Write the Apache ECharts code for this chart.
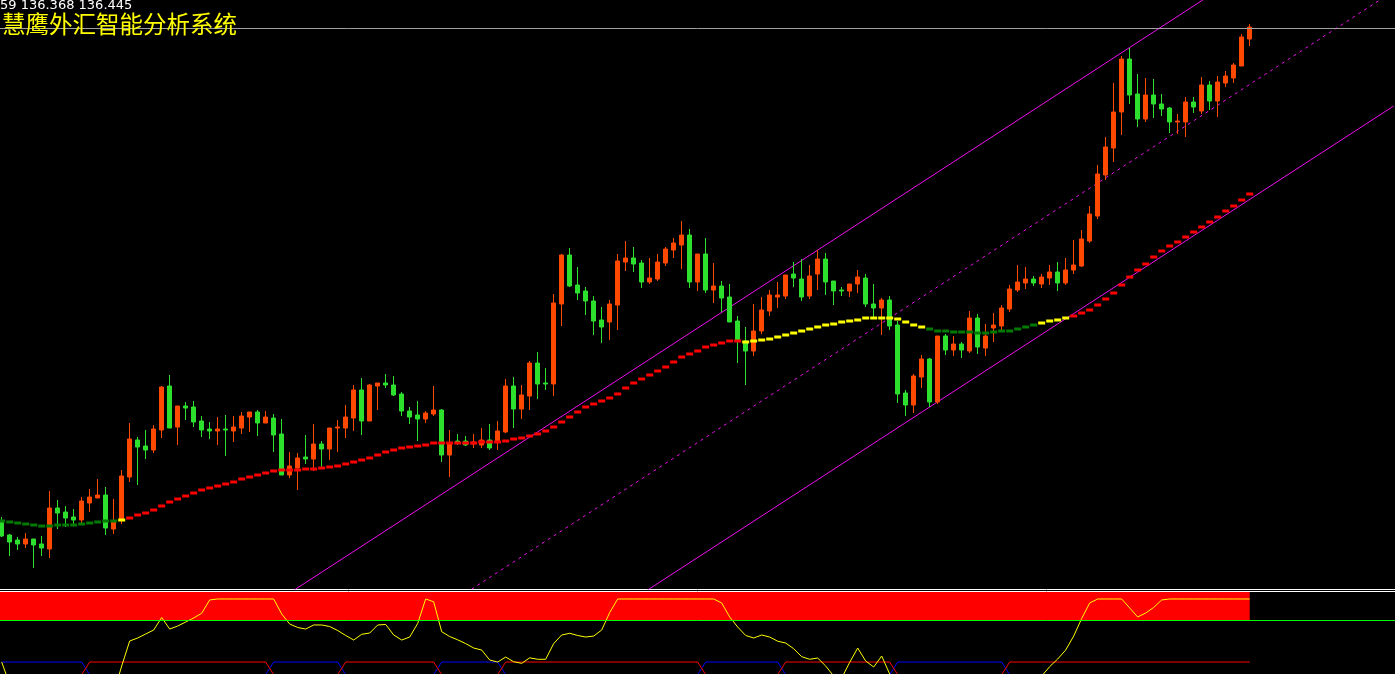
<!DOCTYPE html>
<html>
<head>
<meta charset="utf-8">
<title>慧鹰外汇智能分析系统</title>
<style>
  html, body { margin: 0; padding: 0; background: #000; overflow: hidden; }
  #chart { width: 1395px; height: 674px; }
</style>
<script src="https://cdn.jsdelivr.net/npm/echarts@6/dist/echarts.min.js"></script>
</head>
<body>
<div id="chart"></div>
<script>
// K线数据 (开, 高, 低, 收)
const opens = [
  131.51,131.37,131.32,131.28,131.33,131.28,131.23,131.64,131.60,131.55,
  131.52,131.69,131.74,131.77,131.43,131.52,131.95,132.32,132.26,132.22,
  132.42,132.86,132.45,132.66,132.65,132.51,132.43,132.41,132.43,132.41,
  132.44,132.55,132.60,132.49,132.54,132.38,131.97,132.04,132.15,132.13,
  132.28,132.23,132.44,132.44,132.54,132.82,132.51,132.86,132.89,132.87,
  132.78,132.61,132.57,132.53,132.58,132.62,132.17,132.31,132.31,132.28,
  132.27,132.32,132.30,132.40,132.86,132.63,132.76,133.09,132.89,132.88,
  133.68,134.17,133.87,133.81,133.71,133.52,133.50,133.67,134.10,134.14,
  134.09,133.90,133.93,134.09,134.22,134.27,134.37,133.90,134.18,133.82,
  133.86,133.75,133.51,133.31,133.21,133.41,133.61,133.75,133.76,133.98,
  133.93,133.76,133.98,134.13,133.91,133.82,133.81,133.88,133.94,133.68,
  133.64,133.72,133.47,132.79,132.67,132.95,133.13,132.70,133.36,133.22,
  133.28,133.21,133.54,133.24,133.44,133.46,133.63,133.82,133.89,133.93,
  133.88,133.94,134.00,133.89,134.02,134.06,134.31,134.56,134.97,135.24,
  135.60,136.13,135.78,135.53,135.77,135.68,135.64,135.50,135.50,135.70,
  135.61,135.87,135.71,135.89,135.94,136.06,136.33
];
const closes = [
  131.36,131.30,131.28,131.33,131.27,131.24,131.64,131.59,131.54,131.52,
  131.71,131.75,131.77,131.44,131.50,131.96,132.33,132.25,132.22,132.43,
  132.85,132.44,132.66,132.64,132.50,132.42,132.41,132.43,132.42,132.45,
  132.56,132.60,132.49,132.55,132.37,131.97,132.06,132.14,132.13,132.28,
  132.23,132.44,132.45,132.55,132.82,132.51,132.87,132.89,132.87,132.77,
  132.61,132.55,132.53,132.59,132.62,132.17,132.29,132.29,132.27,132.30,
  132.32,132.24,132.41,132.86,132.63,132.77,133.09,132.88,132.88,133.69,
  134.17,133.86,133.79,133.71,133.51,133.45,133.68,134.11,134.14,134.08,
  133.90,133.94,134.10,134.23,134.29,134.37,133.90,134.18,133.82,133.86,
  133.74,133.50,133.31,133.21,133.41,133.62,133.77,133.77,133.97,133.94,
  133.75,133.96,134.13,133.90,133.81,133.81,133.88,133.95,133.68,133.64,
  133.72,133.46,132.78,132.67,132.96,133.13,132.70,133.36,133.22,133.28,
  133.22,133.54,133.25,133.36,133.47,133.64,133.83,133.90,133.93,133.89,
  133.95,134.00,133.89,134.02,134.07,134.33,134.58,134.98,135.25,135.60,
  136.13,135.77,135.53,135.77,135.68,135.63,135.50,135.51,135.70,135.65,
  135.87,135.71,135.90,135.96,136.07,136.35,136.45
];
const lows = [
  131.35,131.16,131.22,131.24,131.04,131.16,131.14,131.43,131.45,131.47,
  131.47,131.60,131.74,131.37,131.38,131.48,131.90,131.87,132.13,132.19,
  132.34,132.44,132.27,132.52,132.45,132.35,132.33,132.27,132.16,132.30,
  132.38,132.40,132.36,132.49,132.20,131.97,131.94,131.82,132.08,132.01,
  132.05,132.12,132.20,132.34,132.41,132.37,132.51,132.62,132.84,132.76,
  132.56,132.48,132.31,132.49,132.56,132.10,131.95,132.27,132.26,132.24,
  132.24,132.22,132.22,132.39,132.44,132.53,132.62,132.73,132.82,132.76,
  133.46,133.85,133.72,133.57,133.37,133.29,133.32,133.42,134.01,134.00,
  133.84,133.88,133.91,134.06,134.14,134.03,133.84,133.81,133.79,133.69,
  133.60,133.50,133.09,132.87,133.16,133.38,133.56,133.64,133.73,133.85,
  133.71,133.73,133.82,133.77,133.67,133.76,133.75,133.79,133.65,133.55,
  133.37,133.42,132.69,132.56,132.59,132.84,132.65,132.68,133.17,133.16,
  133.14,133.19,133.18,133.16,133.30,133.42,133.60,133.80,133.83,133.86,
  133.84,133.87,133.81,133.87,133.98,134.05,134.29,134.53,134.92,135.10,
  135.37,135.68,135.45,135.50,135.54,135.56,135.39,135.38,135.35,135.59,
  135.58,135.62,135.55,135.85,135.89,136.06,136.26
];
const highs = [
  131.55,131.38,131.35,131.39,131.33,131.36,131.81,131.72,131.66,131.63,
  131.75,131.83,131.93,131.85,131.73,132.02,132.49,132.35,132.42,132.47,
  132.86,132.97,132.66,132.70,132.71,132.56,132.50,132.55,132.57,132.56,
  132.60,132.60,132.62,132.61,132.58,132.53,132.20,132.19,132.37,132.48,
  132.31,132.44,132.52,132.67,132.87,132.94,132.88,132.89,132.98,132.96,
  132.80,132.65,132.71,132.61,132.86,132.63,132.42,132.38,132.36,132.38,
  132.44,132.48,132.51,132.93,132.95,132.87,133.11,133.20,133.04,133.78,
  134.18,134.24,134.05,133.85,133.76,133.65,133.72,134.18,134.31,134.25,
  134.12,134.14,134.18,134.25,134.34,134.51,134.43,134.18,134.34,134.09,
  133.91,133.88,133.56,133.45,133.68,133.75,133.82,133.90,133.97,134.10,
  134.13,134.07,134.22,134.19,133.91,133.85,133.88,134.02,133.98,133.88,
  133.74,133.76,133.51,132.82,132.98,133.17,133.14,133.36,133.38,133.36,
  133.30,133.61,133.58,133.48,133.59,133.67,133.87,134.07,134.05,133.96,
  133.98,134.07,134.10,134.14,134.32,134.42,134.66,135.07,135.35,135.89,
  136.16,136.24,135.98,135.94,135.93,135.78,135.65,135.58,135.75,135.75,
  135.95,135.91,135.96,136.01,136.09,136.38,136.48
];

// 趋势均线
const trendLine = [
  131.51,131.50,131.49,131.48,131.47,131.46,131.46,131.47,131.47,131.47,
  131.48,131.49,131.50,131.51,131.51,131.52,131.54,131.57,131.59,131.62,
  131.66,131.70,131.73,131.76,131.79,131.82,131.84,131.86,131.88,131.90,
  131.93,131.95,131.97,131.99,132.01,132.02,132.02,132.02,132.03,132.03,
  132.04,132.05,132.06,132.08,132.10,132.12,132.14,132.17,132.20,132.22,
  132.24,132.25,132.26,132.27,132.29,132.29,132.29,132.29,132.29,132.29,
  132.30,132.30,132.30,132.31,132.33,132.34,132.36,132.38,132.41,132.45,
  132.50,132.55,132.60,132.65,132.68,132.71,132.74,132.78,132.84,132.89,
  132.93,132.97,133.01,133.05,133.10,133.15,133.18,133.21,133.25,133.27,
  133.29,133.31,133.31,133.30,133.31,133.32,133.33,133.35,133.37,133.39,
  133.41,133.43,133.45,133.47,133.48,133.50,133.51,133.52,133.54,133.54,
  133.54,133.54,133.53,133.50,133.47,133.45,133.43,133.41,133.41,133.40,
  133.40,133.40,133.39,133.39,133.40,133.41,133.41,133.43,133.45,133.47,
  133.49,133.51,133.52,133.54,133.56,133.59,133.62,133.67,133.73,133.79,
  133.87,133.95,134.02,134.08,134.15,134.21,134.26,134.30,134.35,134.40,
  134.45,134.50,134.55,134.61,134.66,134.72,134.78
];
// 均线颜色分段: g 绿, y 黄, r 红
const trendRuns = [['g', 15], ['y', 1], ['r', 77], ['y', 23], ['g', 14], ['y', 4], ['r', 23]];

// 通道线 (起止K线序号, 上/中/下轨价格)
const channelBars = [0, 174];
const channelUpper = [128.92, 137.96];
const channelMid = [127.78, 136.81];
const channelLower = [126.63, 135.66];
const bidPrice = 136.445;

// 副图指标
const oscLine = [
  10,-22,-35,-42,-48,-52,-45,-40,-38,-40,
  -36,-32,-35,-30,-34,4.3,40,44.3,50,55.7,
  73.6,57.1,61.4,67.1,72.9,79.6,98.6,100,100,100,
  100,100,100,100,100,78.6,64.3,59.3,57.1,62.9,
  62.9,60.7,55,47.9,41.4,49.6,51.4,62.9,63.6,48.6,
  41.4,45.7,65.1,100,96,53.3,46.4,41.7,36.3,30,
  27.1,12.9,10,17.1,10.4,8.1,16,13.9,13.9,36.4,
  48.6,51,47.9,45.7,47.1,55.7,80.6,100,100,100,
  100,100,100,100,100,100,100,100,100,100,
  94.3,74.3,60,47.9,44.3,48.6,45.7,39.7,37.1,29,
  17.6,13.9,15.7,4.3,-10,-12.9,9.6,30,11.4,2.9,
  18.6,-7.1,-25,-35,-30,-25,-35,-40,-38,-42,
  -40,-30,-33,-35,-28,-30,-25,-22,-18,-15,
  -10,3.4,14.3,27.1,47.1,72.1,94.3,100,100,100,
  100,87.1,74.3,80,87.9,98.6,100,100,100,100,
  100,100,100,100,100,100,100
];
// 多空状态分段: b 蓝, r 红
const stateRuns = [['b', 11], ['r', 23], ['b', 9], ['r', 12], ['b', 8], ['r', 25], ['b', 10], ['r', 14], ['b', 14], ['r', 31]];
const stateOn = 10;
const stateOff = -8;
const zoneLow = 70;
const zoneHigh = 110;

// 横轴: K线序号, 右侧留空
const xMin = -0.2125;
const xMax = 174.1625;

const upColor = '#ff4800';
const downColor = '#2ee02e';
const trendColors = { g: '#007a00', y: '#ffff00', r: '#ff0000' };
const magenta = '#ee10ee';

function expandRuns(runs) {
  const out = [];
  runs.forEach(([k, n]) => { for (let i = 0; i < n; i++) out.push(k); });
  return out;
}

const trendState = expandRuns(trendRuns);
const sideState = expandRuns(stateRuns);
const lastIndex = opens.length - 1;

const candleData = opens.map((o, i) => [i, o, closes[i], lows[i], highs[i]]);
const trendData = trendLine.map((v, i) => ({ value: [i, v], itemStyle: { color: trendColors[trendState[i]], opacity: 1 } }));
const oscData = oscLine.map((v, i) => [i, v]);
const blueData = sideState.map((s, i) => [i, s === 'b' ? stateOn : stateOff]);
const redData = sideState.map((s, i) => [i, s === 'r' ? stateOn : stateOff]);

function channel(vals, dash) {
  return {
    type: 'line', xAxisIndex: 0, yAxisIndex: 0, silent: true, symbol: 'none', z: 1,
    data: [[channelBars[0], vals[0]], [channelBars[1], vals[1]]],
    lineStyle: { color: magenta, width: 1, type: dash ? [3, 4] : 'solid' }
  };
}

const plainAxis = {
  type: 'value', min: xMin, max: xMax,
  axisLine: { show: true, onZero: false, lineStyle: { color: '#ffffff', width: 1 } },
  axisTick: { show: false }, axisLabel: { show: false }, splitLine: { show: false }
};

const chart = echarts.init(document.getElementById('chart'));
chart.setOption({
  backgroundColor: '#000000',
  animation: false,
  grid: [
    { left: 0, top: 0, width: 1395, height: 589 },
    { left: 0, top: 591, width: 1395, height: 83 }
  ],
  xAxis: [
    Object.assign({}, plainAxis, { gridIndex: 0, position: 'bottom' }),
    Object.assign({}, plainAxis, { gridIndex: 1, position: 'top' })
  ],
  yAxis: [
    { gridIndex: 0, min: 130.83, max: 136.72, show: false },
    { gridIndex: 1, min: -7.1, max: 111.4, show: false }
  ],
  graphic: [
    { type: 'text', left: 0, top: -1, z: 100,
      style: { text: '59 136.368 136.445', fill: '#ffffff', font: '13px "DejaVu Sans"' } },
    { type: 'text', left: 2, top: 12, z: 100,
      style: { text: '慧鹰外汇智能分析系统', fill: '#ffff00', font: '23.5px "Noto Sans CJK SC"' } }
  ],
  series: [
    channel(channelUpper, false),
    channel(channelMid, true),
    channel(channelLower, false),
    {
      type: 'candlestick', xAxisIndex: 0, yAxisIndex: 0, data: candleData, barWidth: 4, z: 3,
      encode: { x: 0, y: [1, 2, 3, 4] },
      itemStyle: { color: upColor, color0: downColor, borderColor: upColor, borderColor0: downColor, borderWidth: 1 },
      markLine: {
        silent: true, symbol: ['none', 'none'], label: { show: false },
        lineStyle: { color: '#a0a0a0', type: 'solid', width: 1 },
        data: [{ yAxis: bidPrice }]
      }
    },
    {
      type: 'scatter', xAxisIndex: 0, yAxisIndex: 0, data: trendData, silent: true, z: 5,
      symbol: 'rect', symbolSize: [7, 3], itemStyle: { opacity: 1 }
    },
    {
      type: 'line', xAxisIndex: 1, yAxisIndex: 1, data: oscData, silent: true, symbol: 'none', z: 1,
      lineStyle: { opacity: 0 },
      markArea: {
        silent: true, itemStyle: { color: '#ff0000', opacity: 1 },
        data: [[{ xAxis: xMin, yAxis: zoneHigh }, { xAxis: lastIndex, yAxis: zoneLow }]]
      },
      markLine: {
        silent: true, symbol: ['none', 'none'], label: { show: false },
        lineStyle: { color: '#00ff00', type: 'solid', width: 1 },
        data: [{ yAxis: zoneLow }]
      }
    },
    {
      type: 'line', xAxisIndex: 1, yAxisIndex: 1, data: blueData, silent: true, symbol: 'none', z: 2,
      lineStyle: { color: '#0000ff', width: 1 }
    },
    {
      type: 'line', xAxisIndex: 1, yAxisIndex: 1, data: redData, silent: true, symbol: 'none', z: 2,
      lineStyle: { color: '#ff0000', width: 1 }
    },
    {
      type: 'line', xAxisIndex: 1, yAxisIndex: 1, data: oscData, silent: true, symbol: 'none', z: 3,
      lineStyle: { color: '#ffff00', width: 1 }
    }
  ]
});
</script>
</body>
</html>
